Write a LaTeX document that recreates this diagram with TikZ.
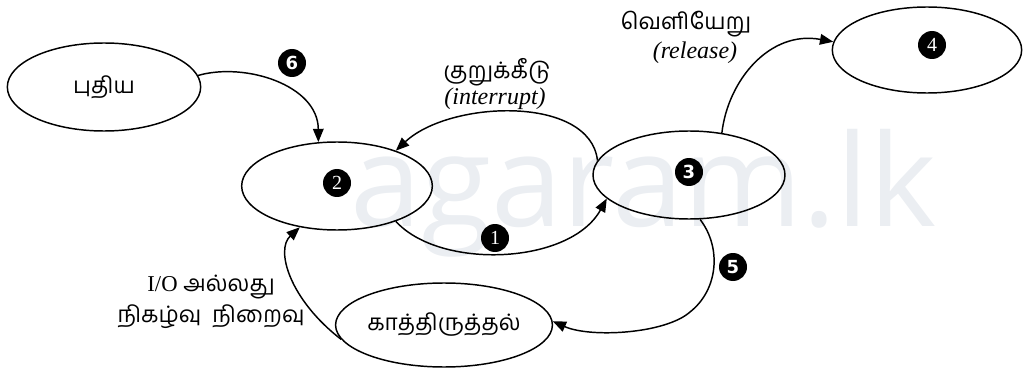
\documentclass[tikz,border=0pt]{standalone}
\usepackage{fontspec}
\setmainfont{Liberation Serif}
\newfontfamily\tamilfont[Script=Tamil]{Hind Madurai}
\newfontfamily\badgefont{DejaVu Sans}
\newfontfamily\wmfont{Open Sans}
\usetikzlibrary{shapes.geometric,arrows.meta}
\definecolor{wmcol}{HTML}{EBEEF2}
\begin{document}
\begin{tikzpicture}[x=0.75pt,y=-0.75pt,
  state/.style={ellipse,draw,line width=1.1pt,inner sep=0pt,minimum width=144pt,minimum height=66pt},
  badge/.style={circle,fill=black,text=white,inner sep=0pt,minimum size=21pt},
  badgeL/.style={badge,font=\fontsize{15}{15}\selectfont},
  badgeB/.style={badge,font=\fontsize{13.5}{14}\badgefont\bfseries},
  conn/.style={line width=1.1pt,-{Triangle[length=10pt,width=8pt]}},
  tlbl/.style={font=\fontsize{17}{20}\tamilfont},
  elbl/.style={font=\fontsize{18}{20}\selectfont\itshape}
]
\useasboundingbox (0,0) rectangle (1026,378);
% watermark
\node[anchor=base west,text=wmcol,font=\fontsize{96}{96}\wmfont,inner sep=0pt] (wmk) at (350,227) {agaram.lk};

% states
\node[state,tlbl,minimum width=145pt] (new) at (104,87) {புதிய};
\node[state,minimum width=143pt] (n2) at (337,186) {};
\node[state] (n3) at (689,175) {};
\node[state,minimum width=142pt,minimum height=64.5pt] (n4) at (927,50) {};
\node[state,tlbl,minimum height=63pt] (wait) at (444,325) {காத்திருத்தல்};

% badges
\node[badgeL] (b2) at (337,183) {2};
\node[badgeB] (b3) at (689,172) {3};
\node[badgeL] (b4) at (932,45) {4};
\node[badgeL] (b1) at (495,238) {1};
\node[badgeB] (b5) at (733,267) {5};
\node[badgeB] (b6) at (292,63) {6};

% labels
\node[tlbl] (t1) at (497,72) {குறுக்கீடு};
\node[elbl] (t2) at (495,99) {(interrupt)};
\node[tlbl] (t3) at (686,24) {வெளியேறு};
\node[elbl] (t4) at (695,53) {(release)};
\node[font=\fontsize{17}{23}\selectfont,align=center] (t5) at (211,302)
  {I/O {\tamilfont அல்லது}\\{\tamilfont நிகழ்வு\ \ நிறைவு}};

% connectors
\draw[conn] (new.7) .. controls (245,62) and (318,85) .. (n2.113);
\draw[conn] (n3.171) .. controls (590,95) and (450,100) .. (n2.31);
\draw[conn] (n2.-31) .. controls (440,270) and (570,265) .. (n3.196);
\draw[conn] (n3.52) .. controls (728,80) and (770,30) .. (n4.175);
\draw[conn] (n3.-76) .. controls (722,248) and (718,290) .. (690,312)
  .. controls (665,334) and (590,338) .. (wait.2);
\draw[conn] (wait.188) .. controls (290,300) and (275,250) .. (n2.228);
\end{tikzpicture}
\end{document}
